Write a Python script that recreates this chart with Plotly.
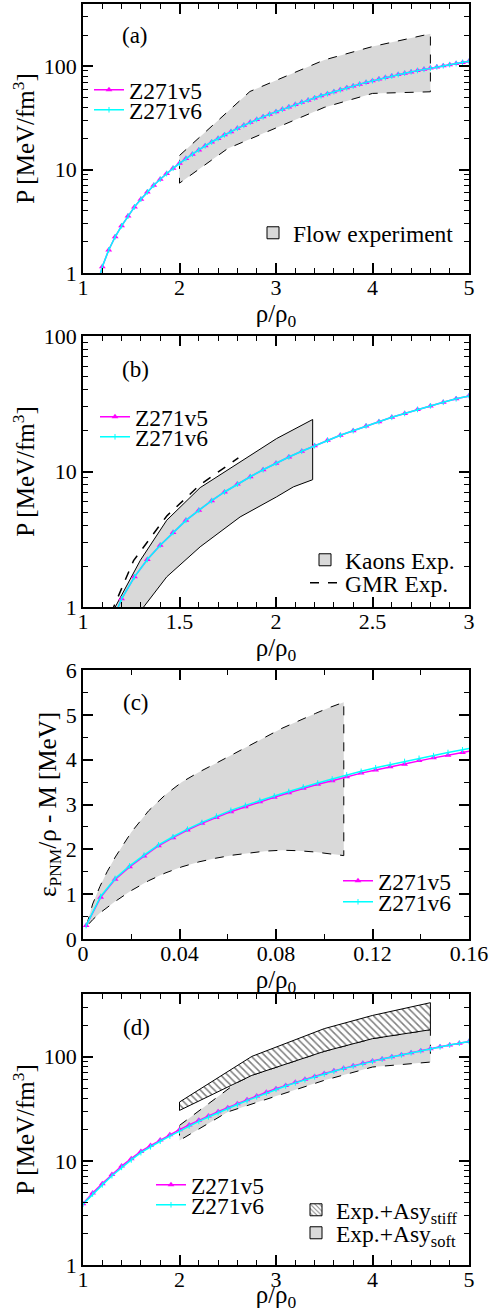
import math
import plotly.graph_objects as go

FONT = "Liberation Serif, Times New Roman, DejaVu Serif, serif"
W, H = 491, 1312

# ---------------- data ----------------
RHO0 = 0.15
# panel (a)/(b): symmetric matter pressure, densities in fm^-3
RHO_A = [0.17, 0.18, 0.19, 0.20, 0.21, 0.22, 0.23, 0.24, 0.25, 0.26, 0.27, 0.28, 0.29, 0.30,
         0.31, 0.32, 0.33, 0.34, 0.35, 0.36, 0.37, 0.38, 0.39, 0.40, 0.41, 0.42, 0.43, 0.44,
         0.45, 0.46, 0.47, 0.48, 0.49, 0.50, 0.51, 0.52, 0.53, 0.54, 0.55, 0.56, 0.57, 0.58,
         0.59, 0.60, 0.61, 0.62, 0.63, 0.64, 0.65, 0.66, 0.67, 0.68, 0.69, 0.70, 0.71, 0.72,
         0.73, 0.74, 0.75]
P_A_V5 = [0.68, 1.15, 1.67, 2.24, 2.86, 3.55, 4.36, 5.17, 6.09, 7.06, 8.07, 9.15, 10.3, 11.5,
          12.8, 14.1, 15.5, 17.0, 18.5, 20.0, 21.7, 23.3, 25.1, 26.8, 28.7, 30.5, 32.4, 34.4,
          36.3, 38.3, 40.4, 42.6, 44.8, 47.0, 49.4, 51.8, 54.2, 56.7, 59.2, 61.8, 64.4, 67.1,
          69.8, 72.4, 75.1, 77.7, 80.4, 83.0, 85.6, 88.2, 90.8, 93.3, 95.9, 98.5, 101.0, 103.6,
          106.2, 108.8, 111.5]
P_A_V6 = [0.68, 1.15, 1.67, 2.24, 2.86, 3.55, 4.36, 5.17, 6.09, 7.06, 8.07, 9.15, 10.3, 11.5,
          12.8, 14.1, 15.5, 17.0, 18.5, 20.0, 21.7, 23.3, 25.1, 26.8, 28.7, 30.5, 32.4, 34.4,
          36.3, 38.3, 40.4, 42.6, 44.8, 47.0, 49.4, 51.8, 54.2, 56.7, 59.2, 61.8, 64.4, 67.1,
          69.8, 72.4, 75.1, 77.7, 80.4, 83.0, 85.6, 88.2, 90.8, 93.3, 95.9, 98.5, 101.0, 103.6,
          106.2, 108.8, 111.5]
X_A = [r / RHO0 for r in RHO_A]

# flow experiment band (a)
FLOW_X_UP = [2.0, 2.73, 3.5, 4.0, 4.6]
FLOW_P_UP = [13.7, 57.0, 115.0, 155.0, 206.0]
FLOW_X_LO = [2.0, 2.5, 3.5, 4.0, 4.6]
FLOW_P_LO = [7.4, 16.0, 40.0, 54.6, 56.6]

# kaons band (b)
KAON_X_UP = [1.155, 1.167, 1.297, 1.434, 1.607, 1.814, 2.003, 2.19]
KAON_P_UP = [0.9, 1.0, 2.21, 4.37, 7.6, 11.8, 17.5, 24.2]
KAON_X_LO = [1.30, 1.314, 1.434, 1.607, 1.814, 2.003, 2.09, 2.19]
KAON_P_LO = [0.9, 1.0, 1.67, 2.78, 4.62, 6.5, 7.7, 8.7]
# GMR (b)
GMR_X = [1.15, 1.159, 1.262, 1.434, 1.607, 1.805]
GMR_P = [0.9, 1.0, 2.2, 4.7, 8.0, 12.6]

# panel (c): PNM energy per particle
X_C = [0.0013, 0.0073, 0.0133, 0.0193, 0.0253, 0.0313, 0.0373, 0.0433, 0.0493, 0.0553,
       0.0613, 0.0673, 0.0733, 0.0793, 0.0853, 0.0913, 0.0973, 0.1033, 0.1093, 0.1153,
       0.1213, 0.1273, 0.1333, 0.1393, 0.1453, 0.1513, 0.1573, 0.1633]
E_C_V5 = [0.30, 0.93, 1.33, 1.61, 1.85, 2.08, 2.26, 2.43, 2.58, 2.71, 2.84, 2.95, 3.06, 3.16,
          3.26, 3.36, 3.45, 3.53, 3.62, 3.70, 3.77, 3.84, 3.90, 3.98, 4.04, 4.10, 4.16, 4.22]
E_C_V6 = [0.30, 0.95, 1.35, 1.63, 1.87, 2.10, 2.28, 2.45, 2.60, 2.74, 2.87, 2.98, 3.09, 3.19,
          3.29, 3.39, 3.48, 3.57, 3.66, 3.74, 3.82, 3.89, 3.96, 4.03, 4.09, 4.16, 4.22, 4.28]
BAND_C_X = [0.0015, 0.004, 0.007, 0.010, 0.0134, 0.02, 0.0272, 0.034, 0.041, 0.048, 0.0548,
            0.062, 0.0687, 0.0755, 0.0825, 0.089, 0.0963, 0.102, 0.1081]
BAND_C_UP = [0.31, 0.78, 1.17, 1.50, 1.83, 2.38, 2.86, 3.21, 3.50, 3.72, 3.91, 4.11, 4.30,
             4.50, 4.70, 4.86, 5.03, 5.16, 5.28]
BAND_C_LO = [0.28, 0.43, 0.58, 0.71, 0.84, 1.08, 1.30, 1.47, 1.61, 1.72, 1.80, 1.87, 1.92,
             1.96, 1.98, 1.97, 1.94, 1.90, 1.86]

# panel (d): PNM pressure
X_D = [1.0, 1.1, 1.2, 1.3, 1.4, 1.5, 1.6, 1.7, 1.8, 1.9, 2.0, 2.1, 2.2, 2.3, 2.4, 2.5, 2.6,
       2.7, 2.8, 2.9, 3.0, 3.1, 3.2, 3.3, 3.4, 3.5, 3.6, 3.7, 3.8, 3.9, 4.0, 4.1, 4.2, 4.3,
       4.4, 4.5, 4.6, 4.7, 4.8, 4.9, 5.0]
P_D_V5 = [3.88, 4.91, 6.04, 7.41, 8.91, 10.50, 12.33, 14.03, 15.85, 17.78, 19.91, 22.13,
          24.49, 26.98, 29.65, 32.43, 35.40, 38.55, 41.88, 45.50, 49.32, 52.97, 56.75, 60.67,
          64.71, 68.87, 73.11, 77.45, 81.85, 86.30, 90.78, 95.28, 99.77, 104.5, 109.4, 114.3,
          119.4, 124.5, 129.7, 134.9, 140.3]
P_D_V6 = [3.84, 4.80, 5.88, 7.20, 8.66, 10.20, 11.98, 13.64, 15.42, 17.30, 19.39, 21.58,
          23.91, 26.37, 29.02, 31.78, 34.73, 37.87, 41.19, 44.80, 48.61, 52.27, 56.05, 59.98,
          64.04, 68.22, 72.47, 76.83, 81.25, 85.73, 90.24, 94.77, 99.29, 104.0, 109.0, 113.9,
          119.0, 124.1, 129.3, 134.6, 140.0]
STIFF_X_UP = [2.0, 2.75, 3.5, 4.0, 4.6]
STIFF_P_UP = [36.7, 100.7, 186.0, 249.0, 330.0]
STIFF_X_LO = [2.0, 2.59, 2.75, 3.5, 4.0, 4.6]
STIFF_P_LO = [30.5, 56.1, 66.2, 112.5, 149.0, 181.6]
SOFT_X_UP = [2.0, 2.59, 2.75, 3.5, 4.0, 4.6]
SOFT_P_UP = [21.9, 56.1, 66.2, 112.5, 149.0, 181.6]
SOFT_X_LO = [2.0, 2.5, 3.5, 4.0, 4.6]
SOFT_P_LO = [15.7, 29.5, 59.3, 79.6, 88.8]

MAG = "#ff00ff"
CYA = "#00ffff"
GRAY = "#d9d9d9"


def poly(xu, yu, xl, yl):
    xs = list(xu) + list(reversed(xl)) + [xu[0]]
    ys = list(yu) + list(reversed(yl)) + [yu[0]]
    return xs, ys


fig = go.Figure()

XDOM = [83 / W, 469 / W]
DOMS = {
    "a": [1 - 273 / H, 1 - 4 / H],
    "b": [1 - 607 / H, 1 - 336 / H],
    "c": [1 - 939 / H, 1 - 670 / H],
    "d": [1 - 1265 / H, 1 - 994 / H],
}
LEGFONT = dict(family=FONT, size=23.5, color="black")


def leg(xp, yp):
    return dict(x=xp / W, y=1 - yp / H, xanchor="left", yanchor="middle",
                bgcolor="rgba(0,0,0,0)", borderwidth=0, itemwidth=30,
                font=LEGFONT, tracegroupgap=0)


def curve_v5(x, y, xa, ya, lg):
    return go.Scatter(x=x, y=y, xaxis=xa, yaxis=ya, mode="lines+markers", name="Z271v5",
                      line=dict(color=MAG, width=1.5),
                      marker=dict(symbol="triangle-up", size=6, color=MAG),
                      legend=lg, showlegend=True)


def curve_v6(x, y, xa, ya, lg):
    return go.Scatter(x=x, y=y, xaxis=xa, yaxis=ya, mode="lines+markers", name="Z271v6",
                      line=dict(color=CYA, width=1.5),
                      marker=dict(symbol="line-ns-open", size=4, color=CYA,
                                  line=dict(color=CYA, width=1)),
                      legend=lg, showlegend=True)


def band(x, y, xa, ya, dash, **kw):
    return go.Scatter(x=x, y=y, xaxis=xa, yaxis=ya, mode="lines", fill="toself",
                      line=dict(color="black", width=1, dash=dash), showlegend=False,
                      hoverinfo="skip", **kw)


def legend_box(name, xa, ya, lg, pattern=None):
    # empty bar trace, used only for its legend swatch
    marker = dict(color=GRAY, line=dict(color="black", width=1))
    if pattern:
        marker = dict(color="white", line=dict(color="black", width=1),
                      pattern=dict(shape="\\", fgcolor="black", bgcolor="white",
                                   size=4, solidity=0.3))
    return go.Bar(x=[None], y=[None], xaxis=xa, yaxis=ya, name=name, legend=lg,
                  marker=marker, showlegend=True)


# (a)
fx, fy = poly(FLOW_X_UP, FLOW_P_UP, FLOW_X_LO, FLOW_P_LO)
fig.add_trace(band(fx, fy, "x", "y", "dash", fillcolor=GRAY))
fig.add_trace(legend_box("Flow experiment", "x", "y", "legend3"))
fig.add_trace(curve_v5(X_A, P_A_V5, "x", "y", "legend"))
fig.add_trace(curve_v6(X_A, P_A_V6, "x", "y", "legend2"))

# (b)
kx, ky = poly(KAON_X_UP, KAON_P_UP, KAON_X_LO, KAON_P_LO)
fig.add_trace(band(kx, ky, "x2", "y2", "solid", fillcolor=GRAY))
fig.add_trace(legend_box("Kaons Exp.", "x2", "y2", "legend6"))
fig.add_trace(go.Scatter(x=GMR_X, y=GMR_P, xaxis="x2", yaxis="y2", mode="lines",
                         line=dict(color="black", width=1.5, dash="dash"),
                         name="GMR Exp.", legend="legend7"))
fig.add_trace(curve_v5(X_A, P_A_V5, "x2", "y2", "legend4"))
fig.add_trace(curve_v6(X_A, P_A_V6, "x2", "y2", "legend5"))

# (c)
cx, cy = poly(BAND_C_X, BAND_C_UP, BAND_C_X, BAND_C_LO)
fig.add_trace(band(cx, cy, "x3", "y3", "dash", fillcolor=GRAY))
fig.add_trace(curve_v5(X_C, E_C_V5, "x3", "y3", "legend8"))
fig.add_trace(curve_v6(X_C, E_C_V6, "x3", "y3", "legend9"))

# (d)
sx, sy = poly(SOFT_X_UP, SOFT_P_UP, SOFT_X_LO, SOFT_P_LO)
fig.add_trace(band(sx, sy, "x4", "y4", "dash", fillcolor=GRAY))
tx, ty = poly(STIFF_X_UP, STIFF_P_UP, STIFF_X_LO, STIFF_P_LO)
fig.add_trace(band(tx, ty, "x4", "y4", "solid", fillcolor="white",
                   fillpattern=dict(shape="\\", fgcolor="black", bgcolor="white",
                                    size=5, solidity=0.3)))
fig.add_trace(legend_box("Exp.+Asy<sub>stiff</sub>", "x4", "y4", "legend12", pattern=True))
fig.add_trace(legend_box("Exp.+Asy<sub>soft</sub>", "x4", "y4", "legend13"))
fig.add_trace(curve_v5(X_D, P_D_V5, "x4", "y4", "legend10"))
fig.add_trace(curve_v6(X_D, P_D_V6, "x4", "y4", "legend11"))

TF = dict(family=FONT, size=22, color="black")
TITF = dict(family=FONT, size=25, color="black")


def xax(anchor, rng, dtick, mdtick):
    return dict(domain=XDOM, anchor=anchor, range=rng, dtick=dtick, tick0=0,
                showline=True, linecolor="black", linewidth=1.5, mirror="allticks",
                ticks="inside", ticklen=10, tickwidth=1.5, tickcolor="black",
                showgrid=False, zeroline=False, tickfont=TF, automargin=False,
                ticklabelstandoff=-6, ticklabeloverflow="allow",
                title=dict(text="ρ/ρ<sub>0</sub>", font=TITF, standoff=0),
                minor=dict(ticks="inside", ticklen=5, tickwidth=1.2, tickcolor="black",
                           dtick=mdtick, showgrid=False))


def yax(anchor, dom, rng, log=True, title="P [MeV/fm<sup>3</sup>]"):
    d = dict(domain=dom, anchor=anchor, range=rng,
             showline=True, linecolor="black", linewidth=1.5, mirror="allticks",
             ticks="inside", ticklen=10, tickwidth=1.5, tickcolor="black",
             showgrid=False, zeroline=False, tickfont=TF, automargin=False,
             ticklabeloverflow="allow",
             title=dict(text=title, font=TITF, standoff=2))
    if log:
        d.update(type="log", dtick=1,
                 minor=dict(ticks="inside", ticklen=5, tickwidth=1.2, tickcolor="black",
                            dtick="D1", showgrid=False))
    else:
        d.update(dtick=1, minor=dict(ticks="inside", ticklen=5, tickwidth=1.2,
                                     tickcolor="black", dtick=0.5, showgrid=False))
    return d


ann = []
for lab, xp, yp in [("(a)", 135, 35), ("(b)", 135, 369), ("(c)", 136, 703), ("(d)", 136, 1027)]:
    ann.append(dict(text=lab, x=xp / W, y=1 - yp / H, xref="paper", yref="paper",
                    showarrow=False, xanchor="center", yanchor="middle",
                    font=dict(family=FONT, size=23, color="black")))

fig.update_layout(
    width=W, height=H, margin=dict(l=0, r=0, t=0, b=0),
    paper_bgcolor="white", plot_bgcolor="white",
    font=dict(family=FONT, color="black"),
    xaxis=xax("y", [1, 5], 1, 0.2),
    yaxis=yax("x", DOMS["a"], [0, math.log10(400)]),
    xaxis2=xax("y2", [1, 3], 0.5, 0.1),
    yaxis2=yax("x2", DOMS["b"], [0, 2]),
    xaxis3=xax("y3", [0, 0.16], 0.04, 0.02),
    yaxis3=yax("x3", DOMS["c"], [0, 6], log=False,
               title="ε<sub>PNM</sub>/ρ - M [MeV]"),
    xaxis4=xax("y4", [1, 5], 1, 0.2),
    yaxis4=yax("x4", DOMS["d"], [0, math.log10(400)]),
    legend=leg(89, 90), legend2=leg(89, 110), legend3=leg(253, 233),
    legend4=leg(95, 417), legend5=leg(95, 437),
    legend6=leg(305, 560), legend7=leg(305, 583),
    legend8=leg(338, 881), legend9=leg(338, 902),
    legend10=leg(151, 1185), legend11=leg(151, 1205),
    legend12=leg(296, 1210), legend13=leg(296, 1233),
    annotations=ann,
    showlegend=True,
)

fig.write_html("out.html", config={"displayModeBar": False},
               post_script="document.body.style.margin='0';")
